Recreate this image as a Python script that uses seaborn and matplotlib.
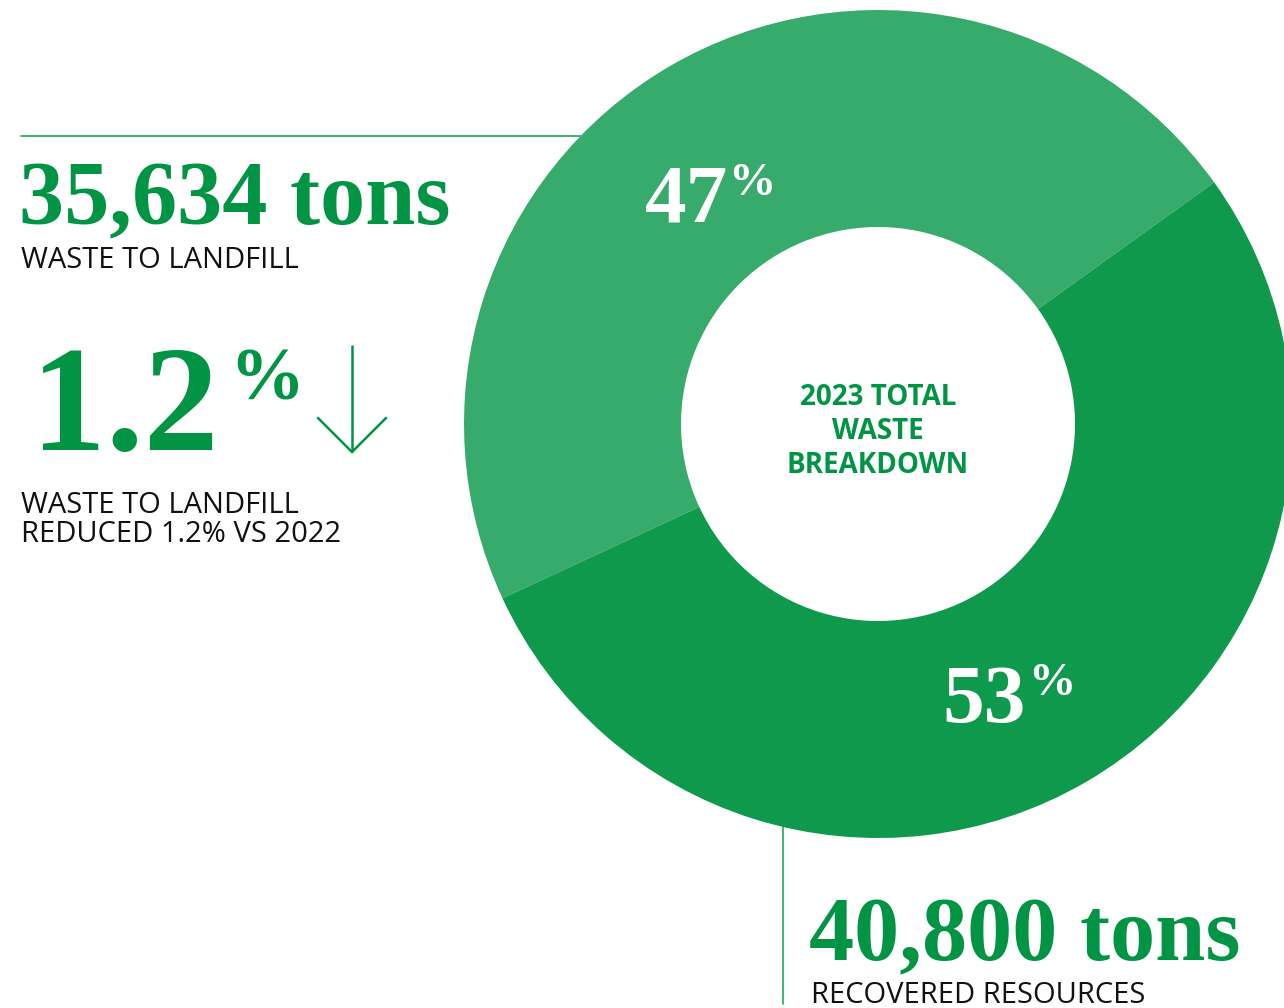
import matplotlib
matplotlib.use("Agg")
import matplotlib.pyplot as plt
from matplotlib.lines import Line2D
import seaborn as sns

# ---- data ----
categories = ["Waste to landfill", "Recovered resources"]
shares = [47, 53]
tons = ["35,634", "40,800"]
reduction = "1.2"
center_title = ["2023 TOTAL", "WASTE", "BREAKDOWN"]
label_landfill = "WASTE TO LANDFILL"
label_reduced = ["WASTE TO LANDFILL", "REDUCED 1.2% VS 2022"]
label_recovered = "RECOVERED RESOURCES"

# ---- style ----
sns.set_theme(style="white")
plt.rcParams["font.family"] = ["DejaVu Sans"]
GREEN = "#009444"
LIGHT = "#37AB6B"
DARK = "#0F994D"
palette = sns.color_palette([LIGHT, DARK])
SERIF = ["Liberation Serif", "DejaVu Serif"]
SANS = ["Open Sans", "DejaVu Sans"]

W, H = 1284, 1008
fig = plt.figure(figsize=(W / 100, H / 100), dpi=100)
fig.patch.set_facecolor("white")


def fx(x):
    return x / W


def fy(y):
    return 1 - y / H


# ---- donut ----
cx, cy, R, r_in = 878, 424, 414, 197
ax = fig.add_axes([fx(cx - R), fy(cy + R), 2 * R / W, 2 * R / H])
ax.pie(shares, colors=palette, startangle=35.7, counterclock=True,
       wedgeprops=dict(width=1 - r_in / R, edgecolor="none", linewidth=0))
ax.set_xlim(-1, 1)
ax.set_ylim(-1, 1)
ax.set_axis_off()

# ---- connector lines (behind donut) ----
fig.add_artist(Line2D([fx(21), fx(620)], [fy(136), fy(136)], color=LIGHT,
                      lw=1.3, zorder=-1))
fig.add_artist(Line2D([fx(783), fx(783)], [fy(820), fy(1004)], color=LIGHT,
                      lw=1.3, zorder=-1))


# ---- percent labels inside donut ----
def pct_label(x, y, val, big, small, px_offset, sup_rise):
    fig.text(fx(x), fy(y), f"{val}", color="white", fontsize=big,
             fontweight="bold", family=SERIF, ha="left", va="baseline")
    fig.text(fx(x + px_offset), fy(y - sup_rise), "%", color="white",
             fontsize=small, fontweight="bold", family=SERIF, ha="left",
             va="baseline")


pct_label(645, 222, shares[0], 60, 34, 83, 27)
pct_label(942, 722, shares[1], 60, 34, 86, 27)

# ---- center title ----
for i, line in enumerate(center_title):
    fig.text(fx(cx), fy(405 + 34 * i), line, color=GREEN, fontsize=20,
             fontweight="bold", family=SANS, ha="center", va="baseline")

# ---- left block ----
fig.text(fx(19), fy(224), f"{tons[0]} tons", color=GREEN, fontsize=65,
         fontweight="bold", family=SERIF, ha="left", va="baseline")
fig.text(fx(21), fy(268), label_landfill, color="#111111", fontsize=21,
         family=SANS, ha="left", va="baseline")

fig.text(fx(31), fy(450), reduction, color=GREEN, fontsize=108,
         fontweight="bold", family=SERIF, ha="left", va="baseline")
fig.text(fx(229), fy(400), "%", color=GREEN, fontsize=54,
         fontweight="bold", family=SERIF, ha="left", va="baseline")

# down arrow
fig.add_artist(Line2D([fx(352), fx(352)], [fy(345), fy(452)], color=GREEN,
                      lw=1.8, solid_capstyle="butt"))
fig.add_artist(Line2D([fx(318), fx(352), fx(386)], [fy(418), fy(452), fy(418)],
                      color=GREEN, lw=1.8, solid_joinstyle="miter"))

for i, line in enumerate(label_reduced):
    fig.text(fx(21), fy(513 + 29 * i), line, color="#111111", fontsize=21,
             family=SANS, ha="left", va="baseline")

# ---- bottom right block ----
fig.text(fx(809), fy(960), f"{tons[1]} tons", color=GREEN, fontsize=65,
         fontweight="bold", family=SERIF, ha="left", va="baseline")
fig.text(fx(811), fy(1003), label_recovered, color="#111111", fontsize=21,
         family=SANS, ha="left", va="baseline")

fig.savefig("out.png", dpi=100, facecolor="white")
